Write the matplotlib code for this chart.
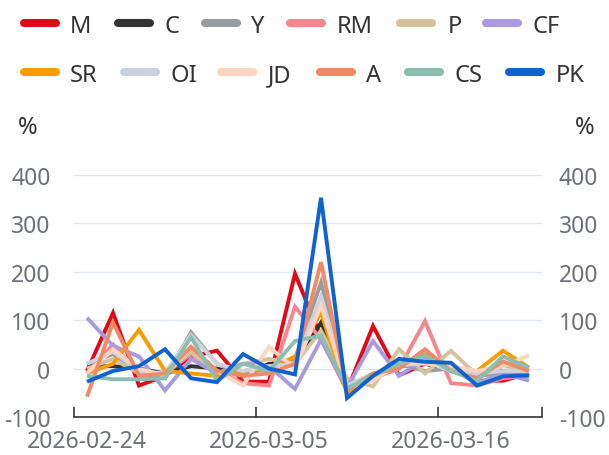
import matplotlib.pyplot as plt
from matplotlib.lines import Line2D
import numpy as np

plt.rcParams['font.family'] = ['Noto Sans', 'DejaVu Sans']
plt.rcParams['axes.unicode_minus'] = False

# trading days, 2026-02-24 .. 2026-03-19
dates = ['2026-02-24', '2026-02-25', '2026-02-26', '2026-02-27', '2026-03-02',
         '2026-03-03', '2026-03-04', '2026-03-05', '2026-03-06', '2026-03-09',
         '2026-03-10', '2026-03-11', '2026-03-12', '2026-03-13', '2026-03-16',
         '2026-03-17', '2026-03-18', '2026-03-19']

M  = [-5, 115, -35, -15, 25, 37, -27, -27, 196, 65, -45, 88, -14, 10, 0, -25, -25, -10]
C  = [5, 5, 0, -10, 5, 0, -15, 10, 10, 95, -40, -15, 5, 10, 0, -10, -5, -15]
Y  = [10, 30, -10, -20, 75, 10, -10, 0, 20, 178, -40, -20, 10, -5, 0, -15, -10, -10]
RM = [-10, 50, -10, -10, 30, -5, -30, -35, 128, 60, -45, -20, 0, 98, -30, -35, -20, -15]
P  = [0, 20, -10, -10, 35, -10, 10, 20, 10, 78, -20, -37, 40, -10, 37, -14, 5, 0]
CF = [105, 47, 25, -45, 20, -10, 10, 5, -42, 60, -40, 57, -15, 20, 0, -30, -10, -25]
SR = [-10, 10, 80, -5, -10, -15, -5, 0, 25, 116, -50, -20, 5, 30, 0, -5, 37, 2]
OI = [10, 35, -5, -10, 70, 10, -5, 5, 10, 150, -35, -10, 5, 15, -5, -10, -5, -5]
JD = [-10, 40, 0, -15, 45, -5, -35, 45, 0, 130, -40, -25, 10, 10, 5, -5, 5, 27]
A  = [-58, 95, -15, -10, 45, -5, -15, -10, 10, 220, -45, -10, 0, 40, -5, -20, 15, -5]
CS = [-15, -22, -22, -20, 65, -25, 10, -5, 57, 68, -40, -15, 10, 27, -5, -25, 25, 2]
PK = [-27, -5, 5, 40, -20, -28, 30, 0, -12, 353, -61, -15, 20, 14, 12, -35, -16, -14]

names = ['M', 'C', 'Y', 'RM', 'P', 'CF', 'SR', 'OI', 'JD', 'A', 'CS', 'PK']
series = [M, C, Y, RM, P, CF, SR, OI, JD, A, CS, PK]
colors = ['#E00A16', '#333333', '#9A9DA0', '#F3868E', '#D4C29E', '#A99AE0',
          '#FA9C00', '#CDD1DB', '#FCD4C0', '#F08A66', '#8ABFAF', '#0F62D0']
yticks = [-100, 0, 100, 200, 300, 400]

W, H = 609, 456
FS = 17      # legend / unit labels
TFS = 16.5   # axis tick labels
fig = plt.figure(figsize=(W / 100, H / 100), dpi=100)
ax = fig.add_axes([74 / W, 38 / H, 468 / W, 242 / H])

x = np.arange(len(dates))
for name, vals, col in zip(names, series, colors):
    ax.plot(x, vals, color=col, lw=2.8, solid_joinstyle='miter', solid_capstyle='butt')

ax.set_xlim(-0.5, len(dates) - 0.5)
ax.set_ylim(yticks[0], yticks[-1])
ax.set_yticks(yticks)
for v in yticks[1:]:
    ax.axhline(v, color='#E0E6F1', lw=1, zorder=0)

for s in ['top', 'left', 'right']:
    ax.spines[s].set_visible(False)
ax.spines['bottom'].set_color('#333333')
ax.spines['bottom'].set_linewidth(1.2)

# labels every 7th category, ticks on category boundaries
ax.set_xticks(x[::7])
ax.set_xticklabels([dates[i] for i in x[::7]])
ax.set_xticks([-0.5, 6.5, 13.5, 17.5], minor=True)
ax.tick_params(axis='x', which='major', length=0, pad=9, labelsize=TFS, labelcolor='#6E7079')
ax.tick_params(axis='x', which='minor', direction='in', length=7, width=1.2, color='#333333')
ax.tick_params(axis='y', length=0, labelsize=TFS, labelcolor='#6E7079', pad=17)

# same scale repeated on the right
ax2 = ax.twinx()
ax2.set_ylim(ax.get_ylim())
ax2.set_yticks(yticks)
for s in ax2.spines.values():
    s.set_visible(False)
ax2.tick_params(axis='y', length=0, labelsize=TFS, labelcolor='#6E7079', pad=12)

fig.text(28 / W, 1 - 128 / H, '%', fontsize=FS, color='#333333', ha='center', va='center')
fig.text(585 / W, 1 - 128 / H, '%', fontsize=FS, color='#333333', ha='center', va='center')

# legend, two rows
rows = [(24, [19.6, 113.6, 200.5, 286, 396, 482], [70, 164.5, 250.7, 337, 448, 533]),
        (73, [19.6, 119.5, 217, 316, 404, 505], [70, 170, 268, 366, 454, 556])]
k = 0
for yy, hx, tx in rows:
    for h0, t0 in zip(hx, tx):
        fig.add_artist(Line2D([(h0 + 4) / W, (h0 + 36) / W], [1 - yy / H, 1 - yy / H],
                              color=colors[k], lw=5.8, solid_capstyle='round'))
        fig.text(t0 / W, 1 - yy / H, names[k], fontsize=FS, color='#333333',
                 ha='left', va='center_baseline')
        k += 1

fig.savefig('out.png', dpi=100)
